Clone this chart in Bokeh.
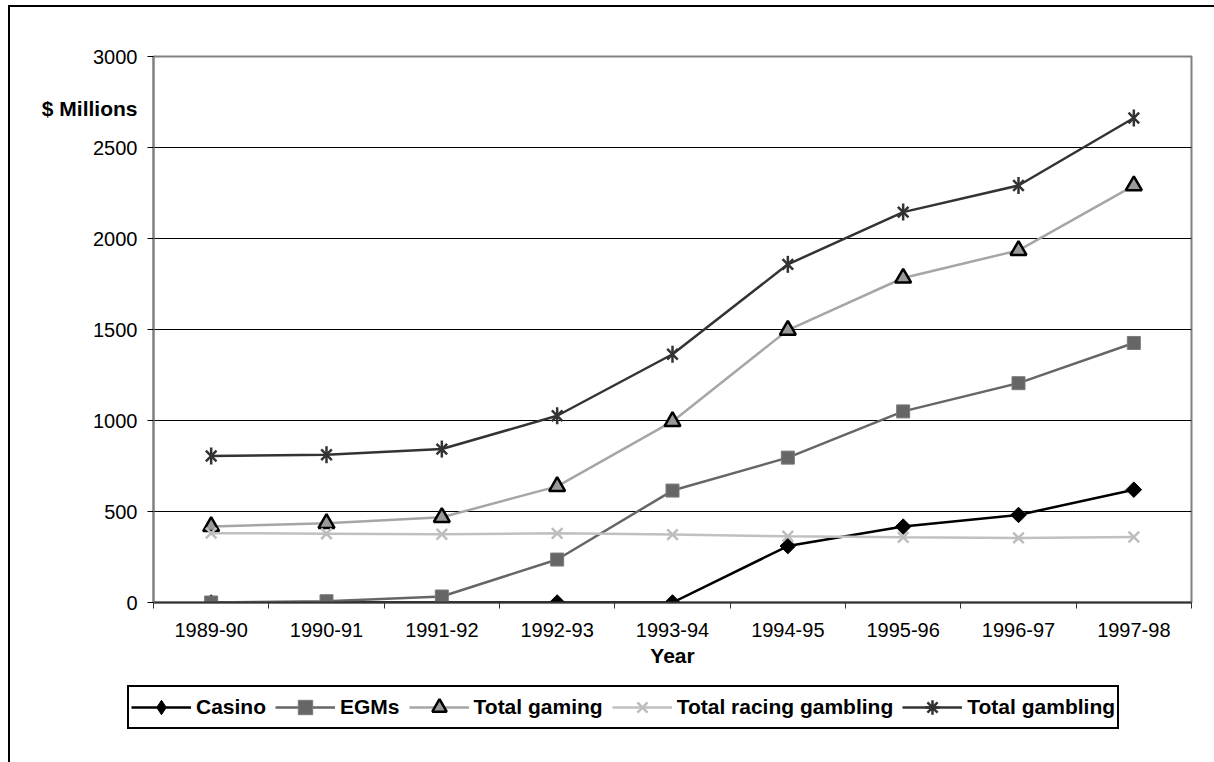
import numpy as np
from bokeh.plotting import figure
from bokeh.layouts import column
from bokeh.models import Range1d, FixedTicker, Legend, LegendItem, LinearAxis
from bokeh.embed import file_html
from bokeh.resources import INLINE

# Gambling expenditure by financial year, $ millions
years = ["1989-90", "1990-91", "1991-92", "1992-93", "1993-94",
         "1994-95", "1995-96", "1996-97", "1997-98"]
casino = [0, 0, 0, 0, 0, 310, 417, 481, 620]
egms = [0, 7, 33, 236, 615, 796, 1050, 1205, 1426]
total_gaming = [418, 435, 468, 638, 995, 1497, 1783, 1935, 2291]
total_racing = [381, 378, 375, 380, 373, 364, 358, 355, 360]
total_gambling = [805, 812, 843, 1026, 1364, 1858, 2145, 2291, 2662]
y_ticks = [0, 500, 1000, 1500, 2000, 2500, 3000]
unit_caption = "$ Millions"
series_names = ["Casino", "EGMs", "Total gaming", "Total racing gambling", "Total gambling"]

FONT = "Liberation Sans"

# marker / line styling per series; legend swatches ignore marker angles,
# so unrotated equivalents are given for them where needed
styles = [
    dict(line=dict(line_color="black", line_width=2.5),
         marks=[dict(marker="square", angle=np.pi / 4, size=11,
                     fill_color="black", line_color="black")],
         key=[dict(marker="diamond", fill_color="black", line_color="black")]),
    dict(line=dict(line_color="#666666", line_width=2.5),
         marks=[dict(marker="square", size=13, fill_color="#666666", line_color="#7a7a7a")]),
    dict(line=dict(line_color="#a6a6a6", line_width=2.5),
         marks=[dict(marker="triangle", size=16, fill_color="#999999",
                     line_color="black", line_width=2.5)]),
    dict(line=dict(line_color="#c0c0c0", line_width=2.5),
         marks=[dict(marker="x", size=15, line_color="#bdbdbd", line_width=2.5)]),
    dict(line=dict(line_color="#333333", line_width=2.5),
         marks=[dict(marker="x", size=15, line_color="#333333", line_width=2.5),
                dict(marker="dash", angle=np.pi / 2, size=17,
                     line_color="#333333", line_width=2.5)],
         key=[dict(marker="asterisk", line_color="#333333", line_width=2.5)]),
]

# one slot per financial year; the year sits in the middle of its slot
xs = [i + 1 for i in range(len(years))]
bounds = [x - 0.5 for x in xs] + [xs[-1] + 0.5]

p = figure(width=1204, height=668,
           x_range=Range1d(bounds[0], bounds[-1]),
           y_range=Range1d(y_ticks[0], y_ticks[-1]),
           output_backend="svg", toolbar_location=None,
           min_border_left=143, min_border_right=23,
           min_border_top=49, min_border_bottom=73,
           background_fill_color="white", border_fill_color="white")

p.outline_line_color = "#808080"
p.outline_line_width = 2

# horizontal gridlines only
p.xgrid.grid_line_color = None
p.ygrid.grid_line_color = "black"
p.ygrid.grid_line_width = 1

# x axis: labels centred on each year, tick marks between years
xa = p.xaxis[0]
xa.ticker = FixedTicker(ticks=xs, minor_ticks=bounds)
xa.major_label_overrides = {x: y for x, y in zip(xs, years)}
xa.major_tick_line_color = None
xa.minor_tick_line_color = "#333333"
xa.minor_tick_in = 0
xa.minor_tick_out = 6
xa.axis_line_color = "#333333"
xa.axis_line_width = 2
xa.major_label_text_font = FONT
xa.major_label_text_font_size = "20px"
xa.major_label_text_color = "black"
xa.major_label_standoff = 14
xa.axis_label = "Year"
xa.axis_label_text_font = FONT
xa.axis_label_text_font_size = "21px"
xa.axis_label_text_font_style = "bold"
xa.axis_label_text_color = "black"
xa.axis_label_standoff = 4

ya = p.yaxis[0]
ya.ticker = FixedTicker(ticks=y_ticks)
ya.minor_tick_line_color = None
ya.major_tick_in = 0
ya.major_tick_out = 6
ya.major_tick_line_color = "black"
ya.axis_line_color = "#808080"
ya.axis_line_width = 2
ya.major_label_text_font = FONT
ya.major_label_text_font_size = "20px"
ya.major_label_text_color = "black"
ya.major_label_standoff = 10

# unit caption beside the top of the value axis
cap = LinearAxis(ticker=FixedTicker(ticks=[2715]),
                 major_label_overrides={2715: unit_caption},
                 axis_line_color=None, major_tick_line_color=None,
                 minor_tick_line_color=None, major_tick_in=0, major_tick_out=0,
                 major_label_standoff=-47,
                 major_label_text_font=FONT, major_label_text_font_size="21px",
                 major_label_text_font_style="bold", major_label_text_color="black")
p.add_layout(cap, "left")

# series
for values, st in zip([casino, egms, total_gaming, total_racing, total_gambling], styles):
    p.line(xs, values, **st["line"])
    for m in st["marks"]:
        p.scatter(xs, values, **m)

# legend strip underneath the chart (its frame is the whole strip)
lf = figure(width=1204, height=87, x_range=Range1d(0, 1), y_range=Range1d(0, 1),
            x_axis_type=None, y_axis_type=None, output_backend="svg",
            toolbar_location=None, min_border=0, outline_line_color=None,
            background_fill_color="white", border_fill_color="white")
lf.frame_align = False

items = []
for name, st in zip(series_names, styles):
    rs = [lf.line([np.nan], [np.nan], **st["line"])]
    for m in st.get("key", st["marks"]):
        rs.append(lf.scatter([np.nan], [np.nan], **m))
    items.append(LegendItem(label=name, renderers=rs))

legend = Legend(items=items, orientation="horizontal", location=(117, 33))
legend.label_text_font = FONT
legend.label_text_font_size = "21px"
legend.label_text_font_style = "bold"
legend.label_text_color = "black"
legend.glyph_width = 60
legend.glyph_height = 36
legend.label_standoff = 5
legend.spacing = 9
legend.padding = 2
legend.margin = 0
legend.border_line_color = "black"
legend.border_line_width = 2
legend.border_line_alpha = 1
legend.background_fill_color = "white"
legend.background_fill_alpha = 1
lf.add_layout(legend)

# thin black frame along the left and top of the whole chart
page = column(p, lf, spacing=0,
              styles={"margin-left": "8px", "margin-top": "5px",
                      "border-left": "2px solid black", "border-top": "2px solid black"})

open("out.html", "w").write(file_html(page, INLINE))
